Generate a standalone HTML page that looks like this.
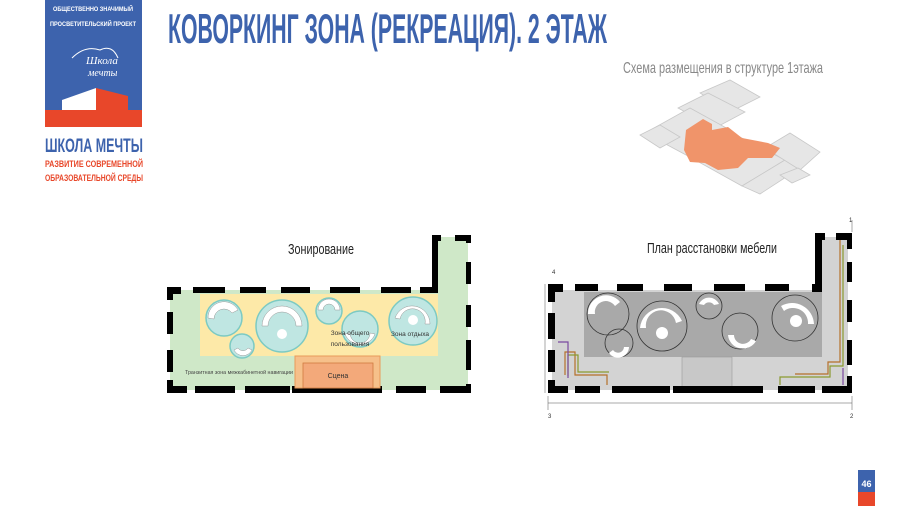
<!DOCTYPE html>
<html><head><meta charset="utf-8"><style>
html,body{margin:0;padding:0;background:#fff}
svg{display:block}
</style></head><body>
<svg width="900" height="506" viewBox="0 0 900 506" xmlns="http://www.w3.org/2000/svg" font-family="'Liberation Sans', sans-serif">
<!-- Logo -->
<rect x="45" y="0" width="97" height="127" fill="#3d63ad"/>
<text x="93" y="11" font-size="6.5" fill="#fff" font-weight="bold" text-anchor="middle" textLength="80" lengthAdjust="spacingAndGlyphs">ОБЩЕСТВЕННО ЗНАЧИМЫЙ</text>
<text x="93" y="26" font-size="6.5" fill="#fff" font-weight="bold" text-anchor="middle" textLength="86" lengthAdjust="spacingAndGlyphs">ПРОСВЕТИТЕЛЬСКИЙ ПРОЕКТ</text>
<text x="86" y="64" font-size="11" fill="#fff" font-style="italic" font-family="'Liberation Serif', serif">Школа</text>
<text x="88" y="76" font-size="10" fill="#fff" font-style="italic" font-family="'Liberation Serif', serif">мечты</text>
<path d="M72 58 Q85 45 100 50 Q112 44 118 58" stroke="#fff" stroke-width="1" fill="none"/>
<polygon points="62,110 62,100 96,88 96,110" fill="#fff"/>
<polygon points="96,110 96,88 128,96 128,110" fill="#e8472a"/>
<rect x="45" y="110" width="97" height="17" fill="#e8472a"/>
<text x="45" y="152" font-size="19" fill="#3d63ad" font-weight="bold" textLength="98" lengthAdjust="spacingAndGlyphs">ШКОЛА МЕЧТЫ</text>
<text x="45" y="167" font-size="9.5" fill="#e8472a" font-weight="bold" textLength="98" lengthAdjust="spacingAndGlyphs">РАЗВИТИЕ СОВРЕМЕННОЙ</text>
<text x="45" y="181" font-size="9.5" fill="#e8472a" font-weight="bold" textLength="98" lengthAdjust="spacingAndGlyphs">ОБРАЗОВАТЕЛЬНОЙ СРЕДЫ</text>
<!-- Title -->
<text x="168" y="43" font-size="42" fill="#3d63ad" font-weight="bold" textLength="439" lengthAdjust="spacingAndGlyphs">КОВОРКИНГ ЗОНА (РЕКРЕАЦИЯ). 2 ЭТАЖ</text>
<text x="623" y="73" font-size="16" fill="#888" textLength="200" lengthAdjust="spacingAndGlyphs">Схема размещения в структуре 1этажа</text>
<!-- iso plan -->
<g stroke="#c8c8c8" stroke-width="0.8" fill="#e6e6e6">
<polygon points="700,93 730,80 760,97 730,112"/>
<polygon points="678,108 708,93 745,112 715,128"/>
<polygon points="645,133 690,108 730,130 688,156"/>
<polygon points="688,156 730,132 785,160 742,186"/>
<polygon points="742,186 785,160 800,168 760,194"/>
<polygon points="765,148 790,133 820,152 800,170"/>
<polygon points="780,175 798,168 810,175 792,183"/>
<polygon points="640,135 660,125 680,137 660,148" />
</g>
<polygon points="686,130 703,119 712,124 712,130 728,127 742,138 768,143 780,148 772,158 748,158 738,168 718,170 705,163 690,162 684,150" fill="#f0946a"/>
<!-- Left plan -->
<text x="321" y="254" font-size="15" fill="#222" text-anchor="middle" textLength="66" lengthAdjust="spacingAndGlyphs">Зонирование</text>
<rect x="170" y="290" width="298" height="100" fill="#cfe8c8"/>
<rect x="434" y="237" width="34" height="56" fill="#cfe8c8"/>
<rect x="200" y="294" width="238" height="62" fill="#fde9a8"/>
<g fill="#000">
<rect x="167" y="287" width="14" height="7"/><rect x="193" y="287" width="32" height="6"/><rect x="240" y="287" width="26" height="6"/><rect x="281" y="287" width="29" height="6"/><rect x="330" y="287" width="30" height="6"/><rect x="381" y="287" width="30" height="6"/><rect x="420" y="287" width="18" height="6"/>
<rect x="432" y="235" width="6" height="56"/><rect x="432" y="235" width="9" height="6"/><rect x="455" y="235" width="16" height="6"/>
<rect x="466" y="235" width="5" height="8"/><rect x="466" y="262" width="5" height="22"/><rect x="466" y="305" width="5" height="22"/><rect x="466" y="340" width="5" height="30"/>
<rect x="167" y="287" width="6" height="13"/><rect x="167" y="312" width="6" height="22"/><rect x="167" y="350" width="6" height="22"/>
<rect x="167" y="386" width="20" height="7"/><rect x="195" y="386" width="40" height="7"/><rect x="245" y="386" width="45" height="7"/><rect x="292" y="386" width="90" height="7"/><rect x="396" y="386" width="30" height="7"/><rect x="440" y="386" width="31" height="7"/>
<rect x="466" y="384" width="5" height="9"/><rect x="167" y="380" width="6" height="13"/>
</g>
<g fill="#bfe6e2" stroke="#7ccac3" stroke-width="1.5">
<circle cx="224" cy="318" r="18"/><circle cx="242" cy="346" r="12"/><circle cx="282" cy="326" r="26"/><circle cx="329" cy="311" r="13"/><circle cx="360" cy="329" r="18"/><circle cx="413" cy="321" r="24"/>
</g>
<g fill="#fff"><circle cx="282" cy="334" r="5"/><circle cx="413" cy="320" r="5"/></g>
<g fill="#fff" stroke="#999" stroke-width="0.5">
<path d="M208 318 a16 16 0 0 1 30 -8 l-6 3 a10 10 0 0 0 -18 6z"/>
<path d="M262 326 a20 20 0 0 1 40 0 l-6 0 a14 14 0 0 0 -28 0z"/>
<path d="M318 310 a11 11 0 0 1 22 0 l-5 0 a6 6 0 0 0 -12 0z"/>
<path d="M345 334 a16 16 0 0 0 30 0 l-5 -1 a10 10 0 0 1 -20 0z"/>
<path d="M395 318 a18 18 0 0 1 35 6 l-5 0 a12 12 0 0 0 -25 -5z"/>
<path d="M234 350 a10 10 0 0 0 18 0 l-4 -2 a6 6 0 0 1 -10 0z"/>
</g>
<text x="350" y="335" font-size="6.5" fill="#333" text-anchor="middle">Зона общего</text>
<text x="350" y="346" font-size="6.5" fill="#333" text-anchor="middle">пользования</text>
<text x="410" y="336" font-size="6.5" fill="#333" text-anchor="middle">Зона отдыха</text>
<text x="185" y="374" font-size="5.5" fill="#444" textLength="108" lengthAdjust="spacingAndGlyphs">Транзитная зона межкабинетной навигации</text>
<rect x="295" y="356" width="85" height="32" fill="#f6c08a" stroke="#e89a5a"/>
<rect x="303" y="363" width="70" height="25" fill="#f3a97a" stroke="#d07a40" stroke-width="0.8"/>
<text x="338" y="378" font-size="7" fill="#333" text-anchor="middle">Сцена</text>
<!-- Right plan -->
<text x="712" y="253" font-size="15" fill="#222" text-anchor="middle" textLength="130" lengthAdjust="spacingAndGlyphs">План расстановки мебели</text>
<rect x="552" y="290" width="296" height="100" fill="#d3d3d3"/>
<rect x="820" y="237" width="28" height="56" fill="#d3d3d3"/>
<rect x="584" y="292" width="238" height="65" fill="#a9a9a9"/>
<rect x="682" y="357" width="50" height="30" fill="#c8c8c8" stroke="#999" stroke-width="0.6"/>
<g fill="#000">
<rect x="548" y="284" width="15" height="8"/><rect x="575" y="284" width="23" height="7"/><rect x="617" y="284" width="26" height="7"/><rect x="664" y="284" width="28" height="7"/><rect x="714" y="284" width="31" height="7"/><rect x="765" y="284" width="24" height="7"/><rect x="812" y="284" width="10" height="8"/>
<rect x="815" y="233" width="7" height="59"/><rect x="815" y="233" width="10" height="7"/><rect x="836" y="233" width="15" height="7"/>
<rect x="847" y="233" width="5" height="16"/><rect x="847" y="262" width="5" height="20"/><rect x="847" y="300" width="5" height="22"/><rect x="847" y="340" width="5" height="25"/><rect x="847" y="376" width="5" height="17"/>
<rect x="548" y="284" width="7" height="18"/><rect x="548" y="313" width="7" height="26"/><rect x="548" y="350" width="7" height="22"/><rect x="548" y="380" width="7" height="13"/>
<rect x="548" y="386" width="20" height="7"/><rect x="575" y="386" width="25" height="7"/><rect x="612" y="386" width="58" height="7"/><rect x="673" y="386" width="90" height="7"/><rect x="778" y="386" width="37" height="7"/><rect x="822" y="386" width="30" height="7"/>
</g>
<g fill="none" stroke="#333" stroke-width="0.8">
<circle cx="608" cy="314" r="21"/><circle cx="619" cy="343" r="14"/><circle cx="662" cy="326" r="25"/><circle cx="709" cy="306" r="13"/><circle cx="740" cy="331" r="18"/><circle cx="795" cy="318" r="23"/>
</g>
<g fill="#fff"><circle cx="662" cy="333" r="6"/><circle cx="796" cy="321" r="6"/></g>
<g fill="#fff">
<path d="M588 314 a18 18 0 0 1 32 -12 l-5 4 a11 11 0 0 0 -20 8z"/>
<path d="M640 328 a22 22 0 0 1 42 -7 l-6 2 a15 15 0 0 0 -30 5z"/>
<path d="M699 304 a11 11 0 0 1 20 0 l-5 1 a6 6 0 0 0 -10 0z"/>
<path d="M728 335 a15 15 0 0 0 28 6 l-5 -2 a9 9 0 0 1 -17 -4z"/>
<path d="M781 306 a22 22 0 0 1 33 18 l-6 0 a15 15 0 0 0 -24 -13z"/>
<path d="M609 353 a11 11 0 0 0 20 -6 l-5 0 a6 6 0 0 1 -11 3z"/>
</g>
<g fill="none" stroke-width="1.2">
<path d="M565 375 L565 352 L575 352 L575 375 L607 375 L607 385" stroke="#b5702a"/>
<path d="M568 376 L568 355 L578 355 L578 372 L609 372" stroke="#8a9a30"/>
<path d="M558 342 L568 342 L568 378" stroke="#7a4aa0"/>
<path d="M840 240 L840 362 L828 362 L828 374 L795 374" stroke="#b5702a"/>
<path d="M843 245 L843 366 L830 366 L830 377 L780 377 L780 385" stroke="#8a9a30"/>
<path d="M843 368 L843 385" stroke="#7a4aa0"/>
</g>
<g stroke="#555" stroke-width="0.5">
<line x1="548" y1="403" x2="852" y2="403"/><line x1="548" y1="396" x2="548" y2="410"/><line x1="852" y1="396" x2="852" y2="410"/>
<line x1="545" y1="284" x2="545" y2="393"/><line x1="852" y1="220" x2="852" y2="232"/>
</g>
<text x="548" y="418" font-size="6" fill="#333">3</text>
<text x="850" y="418" font-size="6" fill="#333">2</text>
<text x="552" y="274" font-size="6" fill="#333">4</text>
<text x="849" y="222" font-size="6" fill="#333">1</text>
<!-- page number -->
<rect x="858" y="470" width="17" height="22" fill="#3d63ad"/>
<rect x="858" y="492" width="17" height="14" fill="#e8472a"/>
<text x="866.5" y="487" font-size="9" fill="#fff" font-weight="bold" text-anchor="middle">46</text>
</svg>
</body></html>
